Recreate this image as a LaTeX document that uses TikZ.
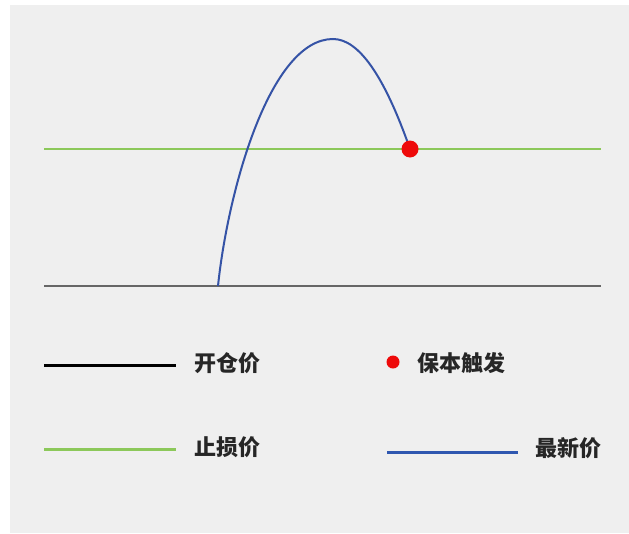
\documentclass[tikz,border=0pt]{standalone}
\usepackage{fontspec}
\newfontfamily\cjk{Noto Sans CJK SC}
\definecolor{fundo}{HTML}{EFEFEF}
\definecolor{verde}{HTML}{8CC85A}
\definecolor{azul}{HTML}{3553A6}
\definecolor{azulleg}{HTML}{2F57B0}
\definecolor{cinza}{HTML}{666666}
\definecolor{vermelho}{HTML}{EE0A0A}

\def\esq{44}
\def\dir{601}
\def\ystop{149}
\def\yabre{286}

\tikzset{
  rotulo/.style={anchor=west, inner sep=0pt, font=\cjk\bfseries\fontsize{22}{25}\selectfont, text=black!85}
}

\begin{document}
\begin{tikzpicture}[x=1pt, y=-1pt]
\useasboundingbox (0,0) rectangle (629,533);
%fundo
    \fill[fundo] (10,5) rectangle (629,533);

%linhas
    \draw [verde, line width=2.2pt] (\esq,\ystop) -- (\dir,\ystop);
    \draw [cinza, line width=2.2pt] (\esq,\yabre) -- (\dir,\yabre);

%preço
    \coordinate (inicio) at (218,\yabre);
    \coordinate (topo) at (333,39);
    \coordinate (gatilho) at (410,\ystop);
    \draw [azul, line width=2pt] (inicio) .. controls (228,190) and (270,39) .. (topo)
        .. controls (358.7,39) and (384.3,75.7) .. (gatilho);
    \fill [vermelho] (gatilho) circle (8.5);

%legenda
    \coordinate (abreA) at (\esq,365);
    \coordinate (abreB) at (176,365);
    \draw [black, line width=3pt] (abreA) -- (abreB);
    \node [rotulo] (abre) at (194,363) {开仓价};

    \coordinate (stopA) at (\esq,449);
    \coordinate (stopB) at (176,449);
    \draw [verde, line width=3pt] (stopA) -- (stopB);
    \node [rotulo] (stop) at (194,447) {止损价};

    \coordinate (ponto) at (393,362);
    \fill [vermelho] (ponto) circle (6.5);
    \node [rotulo] (protege) at (417,363) {保本触发};

    \coordinate (precoA) at (387,452);
    \coordinate (precoB) at (518,452);
    \draw [azulleg, line width=3pt] (precoA) -- (precoB);
    \node [rotulo] (preco) at (535,448) {最新价};

\end{tikzpicture}
\end{document}
